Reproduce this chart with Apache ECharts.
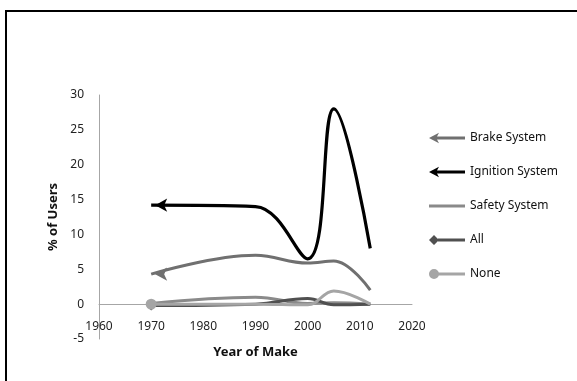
<!DOCTYPE html>
<html>
<head>
<meta charset="utf-8">
<script src="https://cdn.jsdelivr.net/npm/echarts@6/dist/echarts.min.js"></script>
<style>
html,body{margin:0;padding:0;background:#fff;}
#c{width:577px;height:381px;}
</style>
</head>
<body>
<div id="c"></div>
<script>
var years = [1970, 1990, 2000, 2005, 2012];
var brakeSystem = [4.3, 7.0, 5.9, 6.2, 2.0];
var ignitionSystem = [14.2, 14.0, 6.5, 28.0, 8.0];
var safetySystem = [0.1, 1.0, 0.1, 0.2, 0.0];
var allSystems = [-0.2, 0.0, 0.8, -0.1, 0.0];
var noneSystem = [0.0, 0.0, -0.1, 1.9, 0.0];
var seriesNames = ['Brake System', 'Ignition System', 'Safety System', 'All', 'None'];
var xTicks = [1960, 2020, 10];
var yTicks = [-5, 30, 5];

var FONT = 'Noto Sans';
var corners = 'M0,0 L0.01,0 L0,0.01 Z M0,12 L0.01,12 L0,11.99 Z M36,0 L35.99,0 L36,0.01 Z M36,12 L35.99,12 L36,11.99 Z ';
var icons = {
  arrow: 'path://' + corners + 'M0,6 L10,0.8 L8,4.6 L36,4.6 L36,7.4 L8,7.4 L10,11.2 Z',
  line: 'path://' + corners + 'M0,4.6 L36,4.6 L36,7.4 L0,7.4 Z',
  diamond: 'path://' + corners + 'M0,6 L5,1 L10,6 L5,11 Z M9,4.6 L36,4.6 L36,7.4 L9,7.4 Z',
  circle: 'path://' + corners + 'M0,6 A5,5 0 1,1 10,6 A5,5 0 1,1 0,6 Z M9,4.6 L36,4.6 L36,7.4 L9,7.4 Z'
};

function mk(vals, firstSymbol, firstSize, rot) {
  return vals.map(function (v, i) {
    var d = { value: [years[i], v] };
    if (i === 0 && firstSymbol) {
      d.symbol = firstSymbol;
      d.symbolSize = firstSize;
      d.symbolRotate = rot || 0;
      d.symbolOffset = firstSymbol === 'arrow' ? [4, 0] : [0, 0];
    } else {
      d.symbol = 'none';
    }
    return d;
  });
}

function series(name, vals, color, sym, size, rot, width) {
  return {
    name: name,
    type: 'line',
    smooth: 0.4,
    data: mk(vals, sym, size, rot),
    showSymbol: true,
    color: color,
    lineStyle: { color: color, width: width || 3 },
    itemStyle: { color: color },
    emphasis: { disabled: true },
    animation: false
  };
}

var chart = echarts.init(document.getElementById('c'), null, { renderer: 'canvas' });
chart.setOption({
  backgroundColor: '#fff',
  animation: false,
  graphic: [{
    type: 'rect',
    shape: { x: 6, y: 11, width: 620, height: 420 },
    style: { fill: 'none', stroke: '#000', lineWidth: 2 },
    silent: true,
    z: -1
  }],
  grid: { left: 99, right: 165, top: 95, bottom: 42, containLabel: false, outerBoundsMode: 'none' },
  xAxis: {
    type: 'value',
    min: xTicks[0], max: xTicks[1], interval: xTicks[2],
    axisLine: { onZero: true, lineStyle: { color: '#a6a6a6', width: 1 } },
    axisTick: { show: false },
    splitLine: { show: false },
    axisLabel: { color: '#222', fontSize: 12, fontFamily: FONT, margin: -18, formatter: function (v) { return String(v); } },
    name: 'Year of Make',
    nameLocation: 'middle',
    nameGap: 7,
    nameTextStyle: { color: '#111', fontSize: 13, fontWeight: 'bold', fontFamily: FONT }
  },
  yAxis: {
    type: 'value',
    min: yTicks[0], max: yTicks[1], interval: yTicks[2],
    axisLine: { show: true, lineStyle: { color: '#a6a6a6', width: 1 } },
    axisTick: { show: false },
    splitLine: { show: false },
    axisLabel: { color: '#222', fontSize: 12, fontFamily: FONT, margin: 15 },
    name: '% of Users',
    nameLocation: 'middle',
    nameGap: 34,
    nameRotate: 90,
    nameTextStyle: { color: '#111', fontSize: 13, fontWeight: 'bold', fontFamily: FONT }
  },
  legend: {
    orient: 'vertical',
    left: 424,
    top: 127,
    itemWidth: 36,
    itemHeight: 12,
    itemGap: 22,
    selectedMode: false,
    textStyle: { color: '#111', fontSize: 12, fontFamily: FONT },
    data: [
      { name: seriesNames[0], icon: icons.arrow },
      { name: seriesNames[1], icon: icons.arrow },
      { name: seriesNames[2], icon: icons.line },
      { name: seriesNames[3], icon: icons.diamond },
      { name: seriesNames[4], icon: icons.circle }
    ]
  },
  series: [
    series(seriesNames[0], brakeSystem, '#707070', 'arrow', [10, 12], 90, 3),
    series(seriesNames[1], ignitionSystem, '#000000', 'arrow', [10, 12], 90, 3.2),
    series(seriesNames[2], safetySystem, '#8a8a8a', null, 0, 0, 3),
    series(seriesNames[3], allSystems, '#505050', 'diamond', 10, 0, 3),
    series(seriesNames[4], noneSystem, '#a5a5a5', 'circle', 11, 0, 3)
  ]
});
</script>
</body>
</html>
